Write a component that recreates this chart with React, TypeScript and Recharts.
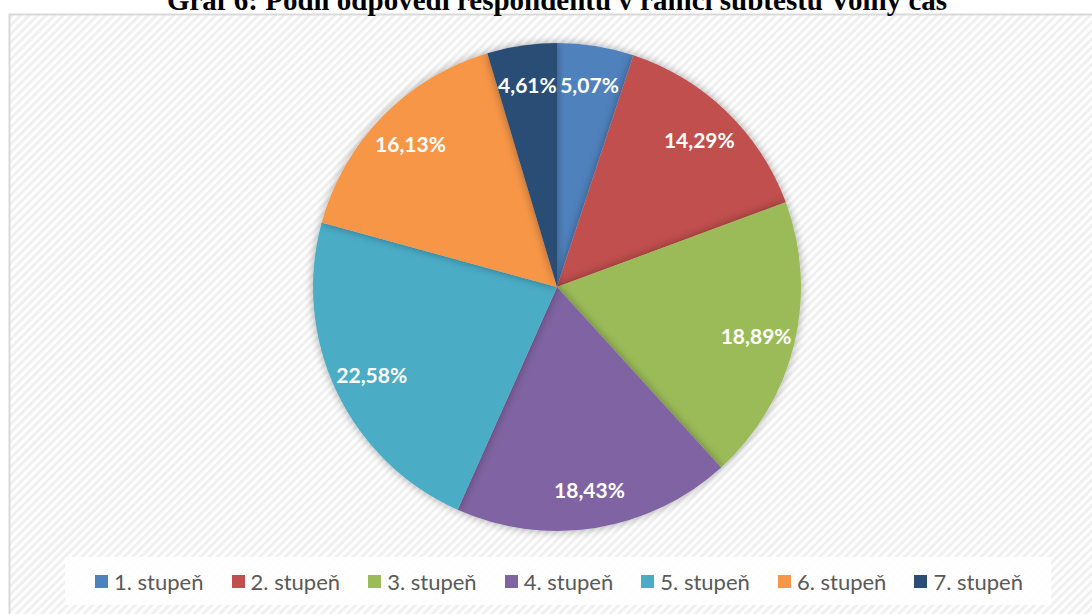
import { PieChart, Pie, Cell, Legend } from 'recharts';

const categories = ['1. stupeň', '2. stupeň', '3. stupeň', '4. stupeň', '5. stupeň', '6. stupeň', '7. stupeň'];
const shares = [5.07, 14.29, 18.89, 18.43, 22.58, 16.13, 4.61];
const colors = ['#4F81BD', '#C0504D', '#9BBB59', '#8064A2', '#4BACC6', '#F79646', '#2C4D75'];
const title = 'Graf 6: Podíl odpovědí respondentů v rámci subtestu Volný čas';

const data = categories.map((name, i) => ({ name, value: shares[i] }));

const RAD = Math.PI / 180;

// data labels sit inside the slice, a bit in from the edge
const renderLabel = (props: any) => {
  const { cx, cy, midAngle, outerRadius, value } = props;
  const r = outerRadius * 0.84;
  const x = cx + r * Math.cos(-midAngle * RAD);
  const y = cy + r * Math.sin(-midAngle * RAD);
  return (
    <text
      x={x}
      y={y}
      fill="#fff"
      textAnchor="middle"
      dominantBaseline="central"
      style={{ fontFamily: 'Lato, sans-serif', fontWeight: 700, fontSize: 21 }}
    >
      {value.toFixed(2).replace('.', ',')}%
    </text>
  );
};

const renderLegend = (props: any) => {
  const { payload } = props;
  return (
    <div style={{ display: 'flex', alignItems: 'center', height: '100%', paddingLeft: 30 }}>
      {payload.map((entry: any) => (
        <div key={entry.value} style={{ display: 'flex', alignItems: 'center', width: 138 }}>
          <span style={{ width: 13, height: 13, background: entry.color, display: 'inline-block', marginRight: 6 }} />
          <span style={{ fontFamily: 'Lato, sans-serif', fontSize: 22, color: '#595959' }}>{entry.value}</span>
        </div>
      ))}
    </div>
  );
};

export default function App() {
  return (
    <div style={{ position: 'absolute', left: 0, top: 0, width: 1092, height: 614, overflow: 'hidden', background: '#fff' }}>
      <svg width={1092} height={614} style={{ position: 'absolute', left: 0, top: 0 }}>
        <defs>
          <pattern id="hatch" width="6" height="6" patternUnits="userSpaceOnUse" patternTransform="rotate(45)">
            <rect width="6" height="6" fill="#ffffff" />
            <rect width="3" height="6" fill="#f0f0f0" />
          </pattern>
          <filter id="pieShadow" x="-10%" y="-10%" width="120%" height="120%">
            <feGaussianBlur in="SourceAlpha" stdDeviation="5" />
            <feComponentTransfer>
              <feFuncA type="linear" slope="0.35" />
            </feComponentTransfer>
            <feMerge>
              <feMergeNode />
              <feMergeNode in="SourceGraphic" />
            </feMerge>
          </filter>
        </defs>
        <rect x={9.5} y={14.5} width={1100} height={620} fill="url(#hatch)" stroke="#d9d9d9" strokeWidth={2} />
        <text
          x={557}
          y={10}
          textAnchor="middle"
          style={{ fontFamily: '"Liberation Serif", serif', fontWeight: 700, fontSize: 29 }}
          fill="#000"
        >
          {title}
        </text>
      </svg>
      <div style={{ position: 'absolute', left: 0, top: 0 }}>
        <PieChart width={1092} height={614} margin={{ top: 0, right: 0, bottom: 0, left: 0 }}>
          <Pie
            data={data}
            dataKey="value"
            nameKey="name"
            cx={557}
            cy={287}
            outerRadius={244}
            startAngle={90}
            endAngle={-270}
            stroke="none"
            label={renderLabel}
            labelLine={false}
            isAnimationActive={false}
            style={{ filter: 'url(#pieShadow)' }}
          >
            {data.map((d, i) => (
              <Cell key={d.name} fill={colors[i]} />
            ))}
          </Pie>
          <Legend
            content={renderLegend}
            wrapperStyle={{ left: 65, top: 557, width: 986, height: 48, background: 'rgba(255,255,255,0.9)' }}
          />
        </PieChart>
      </div>
    </div>
  );
}
